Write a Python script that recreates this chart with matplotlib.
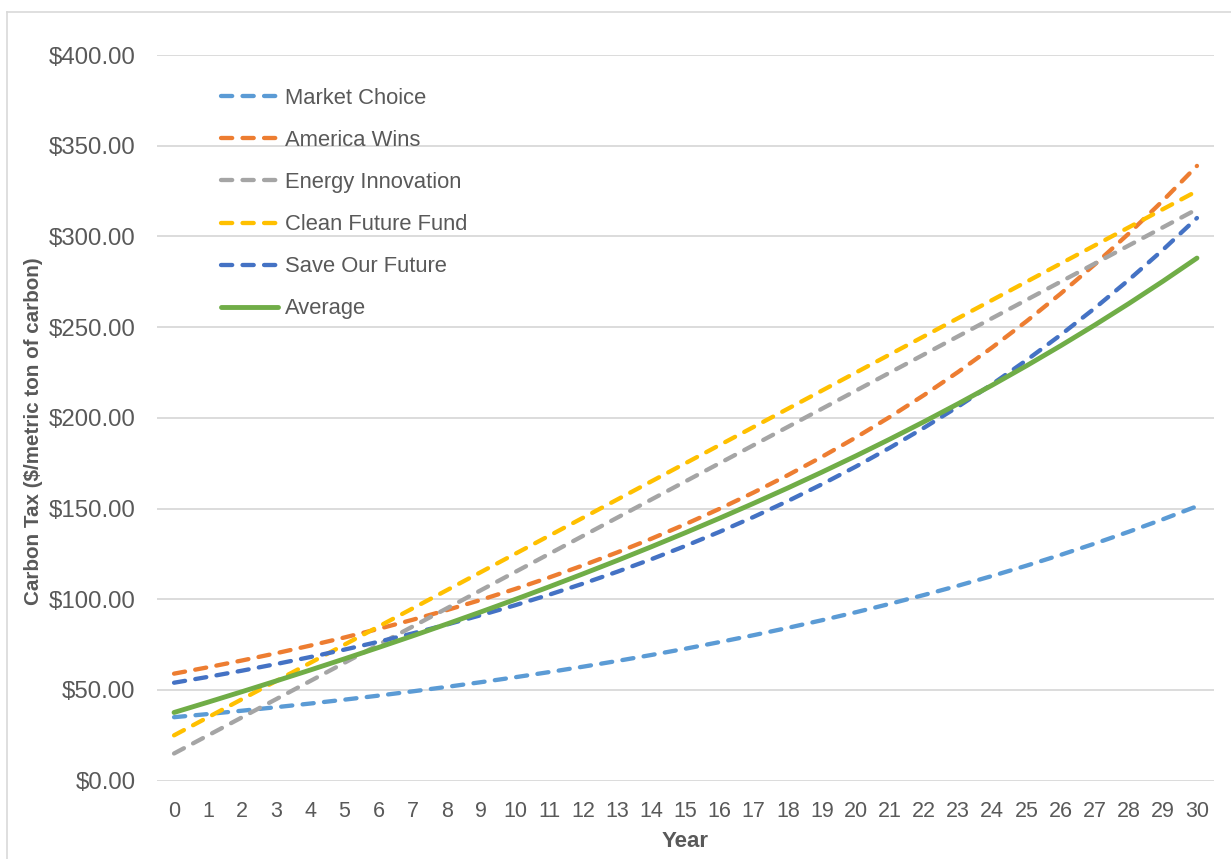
import matplotlib
matplotlib.use("Agg")
import matplotlib.pyplot as plt
from matplotlib.lines import Line2D

plt.rcParams['font.family'] = ['Liberation Sans', 'DejaVu Sans']

years = list(range(31))
year_labels = [str(y) for y in years]

market_choice = [35.00, 36.75, 38.59, 40.52, 42.54, 44.67, 46.90, 49.25, 51.71, 54.30,
                 57.01, 59.86, 62.86, 66.00, 69.30, 72.76, 76.40, 80.22, 84.23, 88.45,
                 92.87, 97.51, 102.39, 107.51, 112.88, 118.53, 124.45, 130.68, 137.21, 144.07,
                 151.28]
america_wins = [59.00, 62.54, 66.29, 70.27, 74.49, 78.95, 83.69, 88.71, 94.03, 99.68,
                105.66, 112.00, 118.72, 125.84, 133.39, 141.40, 149.88, 158.88, 168.40, 178.51,
                189.22, 200.58, 212.61, 225.36, 238.89, 253.22, 268.41, 284.52, 301.59, 319.69,
                338.87]
energy_innovation = [15, 25, 35, 45, 55, 65, 75, 85, 95, 105,
                     115, 125, 135, 145, 155, 165, 175, 185, 195, 205,
                     215, 225, 235, 245, 255, 265, 275, 285, 295, 305,
                     315]
clean_future_fund = [25, 35, 45, 55, 65, 75, 85, 95, 105, 115,
                     125, 135, 145, 155, 165, 175, 185, 195, 205, 215,
                     225, 235, 245, 255, 265, 275, 285, 295, 305, 315,
                     325]
save_our_future = [54.00, 57.24, 60.67, 64.32, 68.17, 72.26, 76.60, 81.19, 86.07, 91.23,
                   96.70, 102.51, 108.66, 115.18, 122.09, 129.42, 137.18, 145.41, 154.13, 163.38,
                   173.18, 183.58, 194.59, 206.26, 218.64, 231.76, 245.67, 260.40, 276.03, 292.59,
                   310.15]
average = [37.60, 43.31, 49.11, 55.02, 61.04, 67.18, 73.44, 79.83, 86.36, 93.04,
           99.87, 106.87, 114.05, 121.40, 128.96, 136.72, 144.69, 152.90, 161.35, 170.07,
           179.05, 188.33, 197.92, 207.83, 218.08, 228.70, 239.71, 251.12, 262.97, 275.27,
           288.06]

series_names = ["Market Choice", "America Wins", "Energy Innovation",
                "Clean Future Fund", "Save Our Future", "Average"]
series_values = [market_choice, america_wins, energy_innovation,
                 clean_future_fund, save_our_future, average]
colors = ["#5B9BD5", "#ED7D31", "#A5A5A5", "#FFC000", "#4472C4", "#70AD47"]
dashed = [True, True, True, True, True, False]

y_ticks = [0, 50, 100, 150, 200, 250, 300, 350, 400]
y_tick_labels = ["$%.2f" % v for v in y_ticks]

W, H = 1231, 859
fig = plt.figure(figsize=(W / 100, H / 100), dpi=100)
ax = fig.add_axes([157 / W, 1 - 780.7 / H, (1214 - 157) / W, (780.7 - 55) / H])

text_color = "#595959"
lw = 3.1
for name, vals, c, d in zip(series_names, series_values, colors, dashed):
    if d:
        ax.plot(years, vals, color=c, lw=lw, label=name, linestyle=(0, (2.6, 2.4)),
                dash_capstyle='round', solid_capstyle='round', zorder=3)
    else:
        ax.plot(years, vals, color=c, lw=lw + 0.4, label=name, linestyle='-',
                solid_capstyle='round', zorder=3)

ax.set_xlim(-0.5, 30.5)
ax.set_ylim(0, 400)
ax.set_yticks(y_ticks)
ax.set_yticklabels(y_tick_labels, fontsize=17.3, color=text_color)
ax.set_xticks(years)
ax.set_xticklabels(year_labels, fontsize=15.5, color=text_color)
ax.tick_params(axis='both', length=0)
ax.tick_params(axis='y', pad=15.5)
ax.tick_params(axis='x', pad=14.8)
ax.grid(axis='y', color="#D9D9D9", lw=1.3, zorder=0)
for s in ax.spines.values():
    s.set_visible(False)

ax.set_ylabel("Carbon Tax ($/metric ton of carbon)", fontsize=14.9, fontweight='bold',
              color=text_color)
ax.yaxis.set_label_coords(-0.108, 0.482)
ax.set_xlabel("Year", fontsize=16, fontweight='bold', color=text_color)
ax.xaxis.set_label_coords(0.5, -0.069)

leg = ax.legend(loc='upper left', bbox_to_anchor=(221 / W, 1 - 88 / H),
                bbox_transform=fig.transFigure, frameon=False, fontsize=15.8,
                handlelength=2.6, handletextpad=0.3, labelspacing=0.96,
                borderpad=0, borderaxespad=0)
for t in leg.get_texts():
    t.set_color(text_color)

# chart area border (left and top visible)
fig.add_artist(Line2D([7 / W, 7 / W], [1 - 12 / H, 0], transform=fig.transFigure,
                      color="#D9D9D9", lw=1.2))
fig.add_artist(Line2D([7 / W, 1], [1 - 12 / H, 1 - 12 / H], transform=fig.transFigure,
                      color="#D9D9D9", lw=1.2))

fig.savefig("out.png", dpi=100, facecolor="white")
